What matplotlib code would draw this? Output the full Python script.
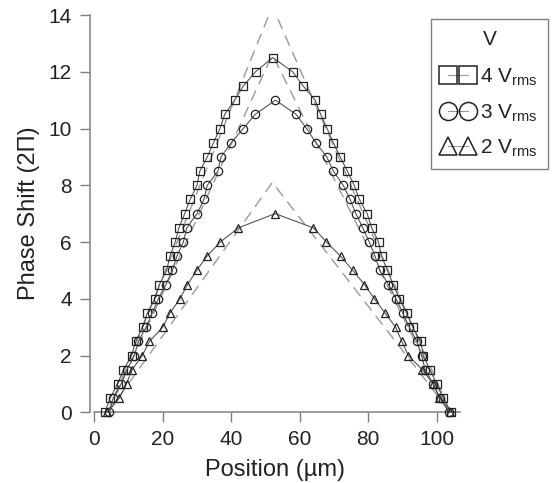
import numpy as np
import matplotlib
matplotlib.use("Agg")
import matplotlib.pyplot as plt
from matplotlib.lines import Line2D

plt.rcParams['font.family'] = ['Liberation Sans', 'DejaVu Sans']

# measured phase shift, 4 Vrms (squares)
x_4v = [3.1, 4.6, 6.8, 8.5, 10.9, 12.1, 14.1, 15.5, 17.7, 19.0, 21.1, 22.1, 23.6,
        24.7, 26.4, 28.0, 30.0, 30.8, 33.0, 34.8, 36.7, 38.1, 41.0, 43.5, 47.1, 52.1,
        57.9, 61.0, 64.5, 66.1, 68.0, 69.8, 71.8, 73.9, 75.9, 77.4, 79.7, 81.0, 83.0,
        83.9, 85.6, 87.3, 89.1, 91.2, 93.0, 95.3, 96.1, 98.0, 100.0, 101.9, 104.1]
y_4v = [0, 0.5, 1, 1.5, 2, 2.5, 3, 3.5, 4, 4.5, 5, 5.5, 6,
        6.5, 7, 7.5, 8, 8.5, 9, 9.5, 10, 10.5, 11, 11.5, 12, 12.5,
        12, 11.5, 11, 10.5, 10, 9.5, 9, 8.5, 8, 7.5, 7, 6.5, 6,
        5.5, 5, 4.5, 4, 3.5, 3, 2.5, 2, 1.5, 1, 0.5, 0]

# 3 Vrms (circles)
x_3v = [4.3, 5.5, 7.8, 9.5, 11.7, 12.9, 15.1, 16.9, 18.7, 20.9, 22.8, 24.1, 26.0,
        27.0, 30.0, 32.0, 33.0, 36.1, 37.0, 40.0, 43.5, 47.0, 52.9,
        58.9, 62.0, 64.7, 67.9, 69.8, 72.7, 74.7, 76.4, 78.4, 80.3,
        82.0, 83.4, 85.9, 88.1, 90.1, 92.0, 94.2, 95.6, 96.6, 99.0, 101.0, 103.6]
y_3v = [0, 0.5, 1, 1.5, 2, 2.5, 3, 3.5, 4, 4.5, 5, 5.5, 6,
        6.5, 7, 7.5, 8, 8.5, 9, 9.5, 10, 10.5, 11,
        10.5, 10, 9.5, 9, 8.5, 8, 7.5, 7, 6.5, 6,
        5.5, 5, 4.5, 4, 3.5, 3, 2.5, 2, 1.5, 1, 0.5, 0]

# 2 Vrms (triangles)
x_2v = [3.8, 7.3, 9.4, 11.0, 14.0, 16.1, 20.0, 22.1, 25.0, 27.2, 29.9, 32.9, 36.8,
        42.1, 52.8, 64.0, 67.8, 71.9, 75.5, 78.9, 81.8, 84.9, 88.0, 89.8,
        91.7, 95.8, 99.0, 100.8, 103.9]
y_2v = [0, 0.5, 1, 1.5, 2, 2.5, 3, 3.5, 4, 4.5, 5, 5.5, 6,
        6.5, 7, 6.5, 6, 5.5, 5, 4.5, 4, 3.5, 3, 2.5,
        2, 1.5, 1, 0.5, 0]

# dashed reference profiles
x_ref = [4, 52, 104]
y_ref_4v = [0, 14.3, 0]
y_ref_3v = [0, 12.6, 0]
y_ref_2v = [0, 8.1, 0]

series = [(x_4v, y_4v, 's', '4 V$_\\mathregular{rms}$'),
          (x_3v, y_3v, 'o', '3 V$_\\mathregular{rms}$'),
          (x_2v, y_2v, '^', '2 V$_\\mathregular{rms}$')]

gray = '#808080'
ink = '#222222'

fig = plt.figure(figsize=(5.54, 4.83), dpi=100)
ax = fig.add_axes([90 / 554, 1 - 412.3 / 483, 370 / 554, 397.3 / 483])

for yr in (y_ref_4v, y_ref_3v, y_ref_2v):
    ax.plot(x_ref, yr, color='#9a9a9a', lw=1.0, dashes=(8, 5), zorder=1)

handles = []
for xs, ys, mk, lab in series:
    ax.plot(xs, ys, color='#555555', lw=0.8, marker=mk, ms=6, mfc='none',
            mec=ink, mew=0.9, clip_on=False, zorder=3)
    handles.append(Line2D([0], [0], color='#999999', lw=0.8, marker=mk, ms=13,
                          mfc='none', mec=ink, mew=1.1, label=lab))

ax.set_xlim(-1.26, 106.8)
ax.set_ylim(0, 14)
ax.spines['top'].set_visible(False)
ax.spines['right'].set_visible(False)
for s in ('left', 'bottom'):
    ax.spines[s].set_color(gray)
    ax.spines[s].set_linewidth(1.1)
ax.spines['bottom'].set_bounds(0, 106.8)
ax.set_xticks([0, 20, 40, 60, 80, 100])
ax.set_yticks([0, 2, 4, 6, 8, 10, 12, 14])
ax.tick_params(direction='out', length=7, width=1, color=gray, labelsize=15,
               labelcolor=ink, pad=6)
ax.set_xlabel('Position (µm)', fontsize=17, color=ink, labelpad=7)
ax.set_ylabel('Phase Shift (2Π)', fontsize=17, color=ink, labelpad=6)

leg = fig.legend(handles=handles, title='V', loc='upper right',
                 bbox_to_anchor=(548.3 / 554, 1 - 19.3 / 483), borderaxespad=0,
                 numpoints=2, handlelength=1.56, handletextpad=0.3, fontsize=15,
                 title_fontsize=15, fancybox=False, framealpha=1,
                 edgecolor=gray, labelspacing=0.65, borderpad=0.5, labelcolor=ink)
leg.get_frame().set_linewidth(1.0)
leg.get_title().set_color(ink)
# a little more room between the title and the entries
leg._legend_box.sep = 13

fig.savefig('out.png', dpi=100)
